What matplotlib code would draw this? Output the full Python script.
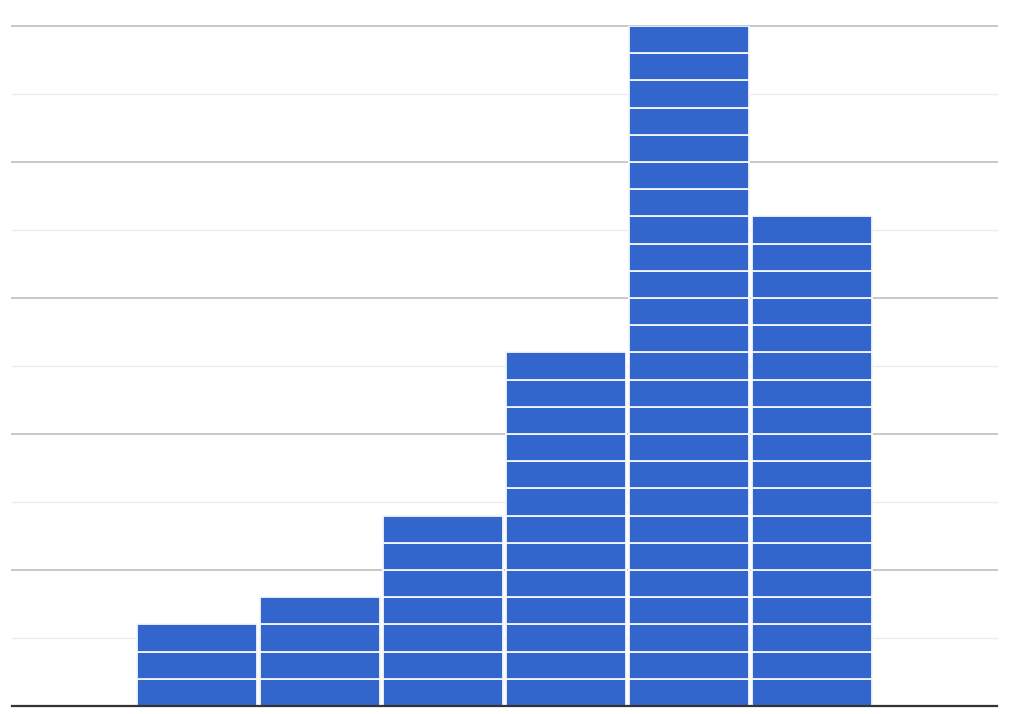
import matplotlib
matplotlib.use("Agg")
import matplotlib.pyplot as plt
import numpy as np

# Histogram bins (positions along the x axis) and item counts per bin
bin_positions = [1, 2, 3, 4, 5, 6]
bin_counts = [3, 4, 7, 13, 25, 18]
x_range = (0, 8)
y_max = 25
major_step = 5
minor_step = 2.5

bar_color = "#3366cc"

fig = plt.figure(figsize=(10.16, 7.14), dpi=100)
ax = fig.add_axes([12 / 1016, 1 - 706 / 714, 985 / 1016, 680 / 714])

# Gridlines: light minor lines, slightly darker major lines
for y in np.arange(minor_step, y_max + 0.01, minor_step):
    is_major = abs(y / major_step - round(y / major_step)) < 1e-6
    ax.axhline(y, color="#c8c8c8" if is_major else "#ebebeb",
               lw=1.4 if is_major else 1.0, zorder=0, clip_on=False)

# Each bin drawn as a stack of unit blocks
for pos, count in zip(bin_positions, bin_counts):
    bottoms = np.arange(count)
    ax.bar([pos + 0.5] * count, [1] * count, bottom=bottoms, width=0.975,
           color=bar_color, edgecolor="#f4f7fd", linewidth=1.3, zorder=2)

ax.axhline(0, color="#333333", lw=1.6, zorder=3, clip_on=False)

ax.set_xlim(*x_range)
ax.set_ylim(0, y_max)
ax.set_xticks([])
ax.set_yticks([])
for s in ax.spines.values():
    s.set_visible(False)

fig.savefig("out.png", dpi=100, facecolor="white")
